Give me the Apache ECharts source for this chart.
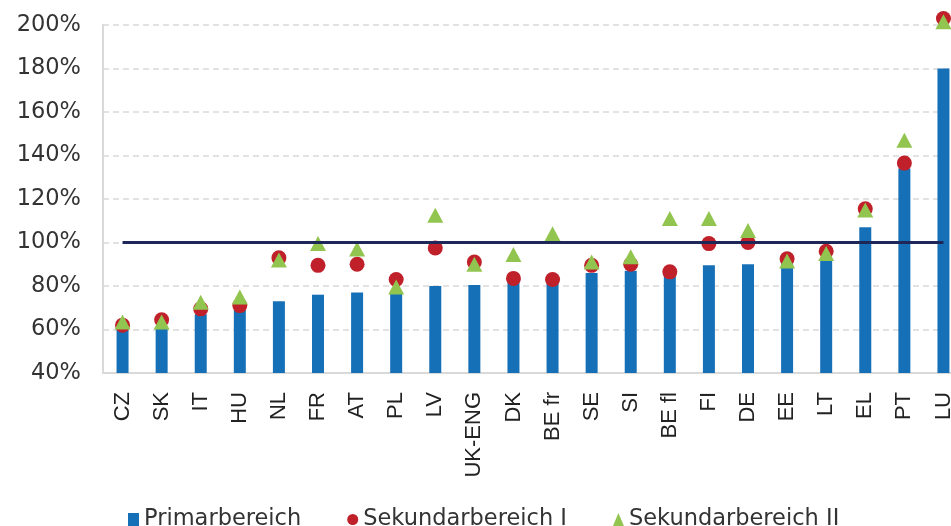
<!DOCTYPE html>
<html>
<head>
<meta charset="utf-8">
<script src="https://cdn.jsdelivr.net/npm/echarts@6/dist/echarts.min.js"></script>
<style>
  html, body { margin: 0; padding: 0; background: #fff; overflow: hidden; }
  #chart { width: 963px; height: 526px; }
</style>
</head>
<body>
<div id="chart"></div>
<script>
// Countries / regions on the x axis
const categories = ['CZ', 'SK', 'IT', 'HU', 'NL', 'FR', 'AT', 'PL', 'LV', 'UK-ENG', 'DK',
  'BE fr', 'SE', 'SI', 'BE fl', 'FI', 'DE', 'EE', 'LT', 'EL', 'PT', 'LU'];

// Values in percent
const primar = [60.5, 61, 67, 69, 73, 76, 77, 77.5, 80, 80.5, 82, 81.5, 86, 87, 85, 89.5, 90, 90.5, 92, 107, 134, 180];
const sekundarI = [62, 64.5, 69.5, 71, 93, 89.5, 90, 83, 97.5, 91, 83.5, 83, 89.5, 90, 86.5, 99.5, 100, 92.5, 96, 115.5, 136.5, 203];
const sekundarII = [63.5, 63.5, 72.5, 75, 92, 99.5, 97, 79.5, 112.5, 90, 94.5, 104, 91, 93.5, 111, 111, 105.5, 91.5, 95, 115, 147, 201.5];

const seriesNames = ['Primarbereich', 'Sekundarbereich I', 'Sekundarbereich II'];
const referenceLevel = 100;

const FONT = 'DejaVu Sans';
const LABEL_FONT = 'Liberation Sans';
const BLUE = '#1670b8';
const RED = '#c0202a';
const GREEN = '#92c550';
const NAVY = '#1d2858';

const chart = echarts.init(document.getElementById('chart'), null, { renderer: 'canvas' });

chart.setOption({
  animation: false,
  backgroundColor: '#ffffff',
  grid: { left: 103, right: 0, top: 25, bottom: 153, containLabel: false },
  legend: {
    left: 123,
    top: 503,
    itemGap: 46,
    itemWidth: 11,
    itemHeight: 13,
    textStyle: { fontFamily: FONT, fontSize: 22.5, color: '#333333' },
    data: [
      { name: seriesNames[0], icon: 'rect' },
      { name: seriesNames[1], icon: 'circle' },
      { name: seriesNames[2], icon: 'triangle' }
    ]
  },
  xAxis: {
    type: 'category',
    data: categories,
    boundaryGap: true,
    axisLine: { show: true, lineStyle: { color: '#d9d9d9', width: 2 } },
    axisTick: { show: false },
    axisLabel: {
      rotate: 90,
      margin: 19,
      interval: 0,
      fontFamily: LABEL_FONT,
      fontSize: 22,
      color: '#222222'
    },
    splitLine: { show: false }
  },
  yAxis: {
    type: 'value',
    min: 40,
    max: 200,
    interval: 20,
    axisLine: { show: true, lineStyle: { color: '#d9d9d9', width: 2 } },
    axisTick: { show: false },
    axisLabel: {
      formatter: '{value}%',
      margin: 22,
      fontFamily: FONT,
      fontSize: 22.5,
      color: '#333333'
    },
    splitLine: { show: true, lineStyle: { color: '#d9d9d9', type: [6, 4], width: 1.5 } }
  },
  series: [
    {
      name: seriesNames[0],
      type: 'bar',
      data: primar,
      barWidth: 12,
      itemStyle: { color: BLUE },
      z: 2,
      markLine: {
        silent: true,
        symbol: 'none',
        label: { show: false },
        lineStyle: { color: NAVY, width: 3, type: 'solid' },
        data: [[
          { coord: [0, referenceLevel] },
          { coord: [categories.length - 1, referenceLevel] }
        ]]
      }
    },
    {
      name: seriesNames[1],
      type: 'scatter',
      data: sekundarI,
      symbol: 'circle',
      symbolSize: 15,
      clip: false,
      itemStyle: { color: RED, opacity: 1 },
      z: 3
    },
    {
      name: seriesNames[2],
      type: 'scatter',
      data: sekundarII,
      symbol: 'triangle',
      symbolSize: [16, 15],
      clip: false,
      itemStyle: { color: GREEN, opacity: 1 },
      z: 4
    }
  ]
});
</script>
</body>
</html>
